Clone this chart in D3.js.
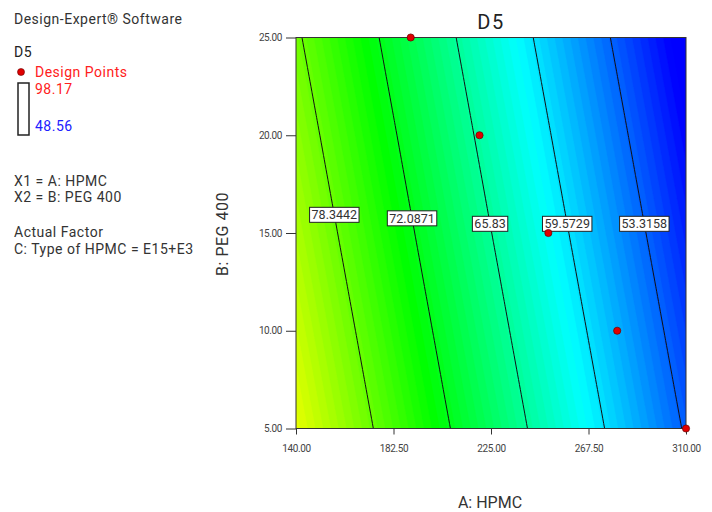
<!DOCTYPE html>
<html>
<head>
<meta charset="utf-8">
<script src="https://cdn.jsdelivr.net/npm/d3@7"></script>
<style>
	body { margin: 0; background: #fff; }
	svg text { font-family: Roboto, "Liberation Sans", sans-serif; }
</style>
</head>
<body>
<div id="chart"></div>
<script>
//Dados
var hpmcTicks = [140, 182.5, 225, 267.5, 310];
var pegTicks = [5, 10, 15, 20, 25];
//Valores estimados de D5 nos cruzamentos dos ticks (linhas = PEG 400, colunas = HPMC)
var d5Grid = [
	[84.62, 76.71, 68.79, 60.88, 52.97],
	[83.17, 75.26, 67.34, 59.43, 51.52],
	[81.72, 73.81, 65.89, 57.98, 50.07],
	[80.28, 72.37, 64.45, 56.54, 48.63],
	[78.83, 70.92, 63.00, 55.09, 47.18]
];
var contourLevels = [78.3442, 72.0871, 65.83, 59.5729, 53.3158];
var contourLabels = ["78.3442", "72.0871", "65.83", "59.5729", "53.3158"];
var labelPeg = [15.93, 15.75, 15.47, 15.47, 15.47];
var designHpmc = [190, 220, 250, 280, 310];
var designPeg = [25, 20, 15, 10, 5];
var d5Range = [48.56, 98.17];
var leftLines = ["X1 = A: HPMC", "X2 = B: PEG 400", "Actual Factor", "C: Type of HPMC = E15+E3"];
var leftLineY = [186, 202, 237, 253.5];

(function () {
	'use strict';
	var W = 712, H = 512;
	var plot = {left: 296, right: 686, top: 37.5, bottom: 428.5};

	var svg = d3.select("#chart").append("svg")
		.attr("width", W)
		.attr("height", H);

	//Escalas
	var x = d3.scaleLinear().domain([140, 310]).range([plot.left, plot.right]);
	var y = d3.scaleLinear().domain([5, 25]).range([plot.bottom, plot.top]);
	var lo = d5Range[0], hi = d5Range[1];
	var color = d3.scaleLinear()
		.domain([lo, lo + (hi - lo) * 0.25, lo + (hi - lo) * 0.5, lo + (hi - lo) * 0.75, hi])
		.range(["#0000ff", "#00ffff", "#00ff00", "#ffff00", "#ff0000"])
		.clamp(true);

	//Superficie: reamostragem bilinear da grade para o d3.contours
	function field(a, b) {
		var i = Math.max(0, Math.min(hpmcTicks.length - 2, d3.bisectRight(hpmcTicks, a) - 1));
		var j = Math.max(0, Math.min(pegTicks.length - 2, d3.bisectRight(pegTicks, b) - 1));
		var ta = (a - hpmcTicks[i]) / (hpmcTicks[i + 1] - hpmcTicks[i]);
		var tb = (b - pegTicks[j]) / (pegTicks[j + 1] - pegTicks[j]);
		var v00 = d5Grid[j][i], v01 = d5Grid[j][i + 1], v10 = d5Grid[j + 1][i], v11 = d5Grid[j + 1][i + 1];
		return (1 - tb) * ((1 - ta) * v00 + ta * v01) + tb * ((1 - ta) * v10 + ta * v11);
	}
	var nx = 171, ny = 81;
	var values = new Array(nx * ny);
	for (var j = 0; j < ny; j++) {
		for (var i = 0; i < nx; i++) {
			values[j * nx + i] = field(140 + i * 170 / (nx - 1), 5 + j * 20 / (ny - 1));
		}
	}
	var project = d3.geoTransform({
		point: function (cx, cy) {
			var a = 140 + (cx - 0.5) * 170 / (nx - 1);
			var b = 5 + (cy - 0.5) * 20 / (ny - 1);
			this.stream.point(x(a), y(b));
		}
	});
	var path = d3.geoPath(project);

	svg.append("clipPath").attr("id", "plot-clip")
		.append("rect")
		.attr("x", plot.left).attr("y", plot.top)
		.attr("width", plot.right - plot.left).attr("height", plot.bottom - plot.top);

	//Faixas de cor
	var step = 0.63;
	var bandThresholds = d3.range(44, 90, step);
	var bands = d3.contours().size([nx, ny]).thresholds(bandThresholds)(values);
	var g = svg.append("g").attr("clip-path", "url(#plot-clip)");
	g.selectAll(".band")
		.data(bands)
		.enter()
		.append("path")
		.attr("class", "band")
		.attr("d", path)
		.attr("fill", function (d) { return color(d.value + step / 2); })
		.attr("stroke", function (d) { return color(d.value + step / 2); })
		.attr("stroke-width", 0.5);

	//Linhas de contorno
	var lines = d3.contours().size([nx, ny]).thresholds(contourLevels)(values);
	g.selectAll(".contour")
		.data(lines)
		.enter()
		.append("path")
		.attr("class", "contour")
		.attr("d", path)
		.attr("fill", "none")
		.attr("stroke", "#111")
		.attr("stroke-width", 1);

	//Moldura
	svg.append("rect")
		.attr("x", plot.left).attr("y", plot.top)
		.attr("width", plot.right - plot.left).attr("height", plot.bottom - plot.top)
		.attr("fill", "none").attr("stroke", "#333").attr("stroke-width", 1);

	//Eixos
	var xAxis = svg.append("g")
		.attr("transform", "translate(0," + plot.bottom + ")")
		.call(d3.axisBottom(x).tickValues(hpmcTicks).tickFormat(d3.format(".2f")).tickSize(6).tickPadding(10));
	var yAxis = svg.append("g")
		.attr("transform", "translate(" + plot.left + ",0)")
		.call(d3.axisLeft(y).tickValues(pegTicks).tickFormat(d3.format(".2f")).tickSize(10).tickPadding(4));
	[xAxis, yAxis].forEach(function (ax) {
		ax.select(".domain").remove();
		ax.selectAll(".tick line").attr("stroke", "#333");
		ax.selectAll(".tick text")
			.attr("fill", "#444")
			.style("font-size", "10px")
			.style("letter-spacing", "-0.4px");
	});

	//Rotulos das curvas
	contourLevels.forEach(function (lvl, k) {
		var b = labelPeg[k];
		var a0 = 140, a1 = 310;
		for (var it = 0; it < 40; it++) {
			var m = (a0 + a1) / 2;
			if (field(m, b) > lvl) a0 = m; else a1 = m;
		}
		var cx = x((a0 + a1) / 2), cy = y(b);
		var t = svg.append("text")
			.attr("x", cx).attr("y", cy + 4.5)
			.attr("text-anchor", "middle")
			.style("font-size", "12.5px")
			.attr("fill", "#333")
			.text(contourLabels[k]);
		var bb = t.node().getBBox();
		svg.insert("rect", function () { return t.node(); })
			.attr("x", bb.x - 2).attr("y", cy - 7.5)
			.attr("width", bb.width + 4).attr("height", 15)
			.attr("fill", "#fff").attr("stroke", "#222").attr("stroke-width", 1);
	});

	//Pontos do delineamento
	svg.selectAll(".design-point")
		.data(designHpmc)
		.enter()
		.append("circle")
		.attr("class", "design-point")
		.attr("cx", function (d) { return x(d); })
		.attr("cy", function (d, i) { return y(designPeg[i]); })
		.attr("r", 3.6)
		.attr("fill", "#e00000")
		.attr("stroke", "#600").attr("stroke-width", 0.7);

	//Titulos
	svg.append("text")
		.attr("x", 491).attr("y", 29)
		.attr("text-anchor", "middle")
		.style("font-size", "20px")
		.style("letter-spacing", "1.5px")
		.attr("fill", "#222")
		.text("D5");
	svg.append("text")
		.attr("x", 490).attr("y", 508)
		.attr("text-anchor", "middle")
		.style("font-size", "16px")
		.attr("fill", "#333")
		.text("A: HPMC");
	svg.append("text")
		.attr("transform", "translate(228,234) rotate(-90)")
		.attr("text-anchor", "middle")
		.style("font-size", "16px")
		.style("letter-spacing", "0.5px")
		.attr("fill", "#333")
		.text("B: PEG 400");

	//Legenda a esquerda
	var leg = svg.append("g").style("font-size", "14px").style("letter-spacing", "0.5px");
	leg.append("text").attr("x", 14).attr("y", 23.5).attr("fill", "#333").text("Design-Expert® Software");
	leg.append("text").attr("x", 14).attr("y", 57).attr("fill", "#222").text("D5");
	leg.append("circle").attr("cx", 21).attr("cy", 72).attr("r", 3.5).attr("fill", "#e00000").attr("stroke", "#600").attr("stroke-width", 0.6);
	leg.append("text").attr("x", 35).attr("y", 76.5).attr("fill", "#ff2020").text("Design Points");
	leg.append("rect").attr("x", 18).attr("y", 83).attr("width", 11).attr("height", 52)
		.attr("fill", "#fff").attr("stroke", "#222").attr("stroke-width", 1.5);
	leg.append("text").attr("x", 35).attr("y", 94).attr("fill", "#ff2020").text(d3.format(".2f")(d5Range[1]));
	leg.append("text").attr("x", 35).attr("y", 131).attr("fill", "#2020ff").text(d3.format(".2f")(d5Range[0]));
	leg.selectAll(".info")
		.data(leftLines)
		.enter()
		.append("text")
		.attr("class", "info")
		.attr("x", 14)
		.attr("y", function (d, i) { return leftLineY[i]; })
		.attr("fill", "#333")
		.text(function (d) { return d; });
}());
</script>
</body>
</html>
